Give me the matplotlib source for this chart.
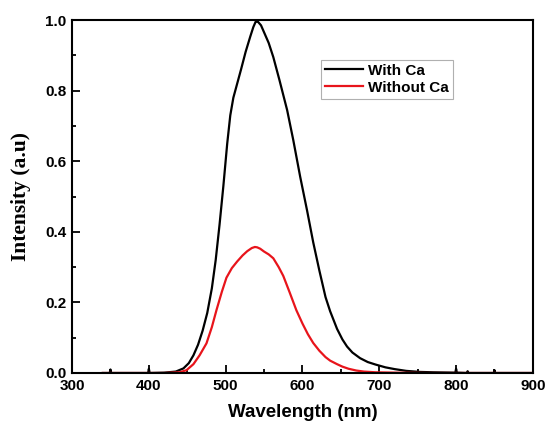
import matplotlib
matplotlib.use("Agg")
import matplotlib.pyplot as plt
from matplotlib.ticker import MultipleLocator

# emission spectra
wl_ca = [340, 349, 350, 351, 380, 399, 400, 401, 420, 435, 445, 452, 458, 464,
         470, 476, 482, 487, 492, 497, 502, 506, 510, 515, 520, 526, 532, 536,
         539, 542, 546, 550, 556, 562, 570, 580, 588, 597, 606, 614, 622, 630,
         636, 645, 652, 658, 665, 675, 685, 695, 708, 720, 735, 753, 770, 799,
         800, 801, 814, 815, 816, 849, 850, 851, 875, 900]
int_ca = [0.0, 0.0, 0.01, 0.0, 0.0, 0.0, 0.012, 0.0, 0.001, 0.004, 0.013, 0.028,
          0.05, 0.08, 0.12, 0.17, 0.24, 0.32, 0.42, 0.53, 0.65, 0.73, 0.78,
          0.82, 0.86, 0.91, 0.953, 0.98, 0.995, 0.995, 0.985, 0.965, 0.935,
          0.895, 0.83, 0.745, 0.66, 0.556, 0.46, 0.37, 0.29, 0.215, 0.175,
          0.125, 0.095, 0.075, 0.058, 0.042, 0.031, 0.024, 0.016, 0.011, 0.006,
          0.003, 0.002, 0.001, 0.012, 0.001, 0.0, 0.005, 0.0, 0.0, 0.008, 0.0,
          0.0, 0.0]

wl_no = [340, 380, 420, 440, 449, 458, 466, 475, 482, 488, 495, 501, 508, 515,
         522, 528, 534, 538, 541, 545, 550, 556, 562, 569, 575, 583, 592, 600,
         607, 614, 622, 630, 636, 645, 652, 660, 670, 680, 695, 720, 760, 800,
         850, 900]
int_no = [0.0, 0.0, 0.0, 0.002, 0.008, 0.025, 0.05, 0.084, 0.13, 0.178, 0.23,
          0.27, 0.297, 0.316, 0.333, 0.345, 0.354, 0.357, 0.356, 0.352, 0.344,
          0.336, 0.325, 0.3, 0.275, 0.23, 0.178, 0.14, 0.11, 0.085, 0.063,
          0.045, 0.035, 0.025, 0.018, 0.012, 0.007, 0.004, 0.002, 0.001, 0.0,
          0.0, 0.0, 0.0]

x_ticks = [300, 400, 500, 600, 700, 800, 900]
y_ticks = [0.0, 0.2, 0.4, 0.6, 0.8, 1.0]

fig = plt.figure(figsize=(5.46, 4.24), dpi=100)
ax = fig.add_axes([0.132, 0.1203, 0.844, 0.8325])

ax.plot(wl_ca, int_ca, color="black", lw=1.6, label="With Ca")
ax.plot(wl_no, int_no, color="#e8141b", lw=1.6, label="Without Ca")

ax.set_xlim(300, 900)
ax.set_ylim(0, 1.0)
ax.set_xticks(x_ticks)
ax.set_yticks(y_ticks)
ax.xaxis.set_minor_locator(MultipleLocator(50))
ax.yaxis.set_minor_locator(MultipleLocator(0.1))
ax.tick_params(which="both", direction="in", top=False, right=False, width=1.3)
ax.tick_params(which="major", length=6, pad=4)
ax.tick_params(which="minor", length=3)
for sp in ax.spines.values():
    sp.set_linewidth(1.5)

for lab in ax.get_xticklabels() + ax.get_yticklabels():
    lab.set_fontfamily("Liberation Sans")
    lab.set_fontweight("bold")
    lab.set_fontsize(11)

ax.set_ylabel("Intensity (a.u)", fontfamily="Liberation Serif", fontweight="bold",
              fontsize=15.5, labelpad=10)
ax.set_xlabel("Wavelength (nm)", fontfamily="Liberation Sans", fontweight="bold",
              fontsize=13.5, labelpad=8)

leg = ax.legend(loc="upper left", bbox_to_anchor=(0.541, 0.887), fancybox=False,
                prop={"family": "Liberation Sans", "weight": "bold", "size": 11},
                handlelength=2.5, handletextpad=0.3, borderpad=0.25,
                labelspacing=0.2, borderaxespad=0, framealpha=1)
leg.get_frame().set_edgecolor("#b0b0b0")
leg.get_frame().set_linewidth(0.8)

fig.savefig("out.png", dpi=100)
